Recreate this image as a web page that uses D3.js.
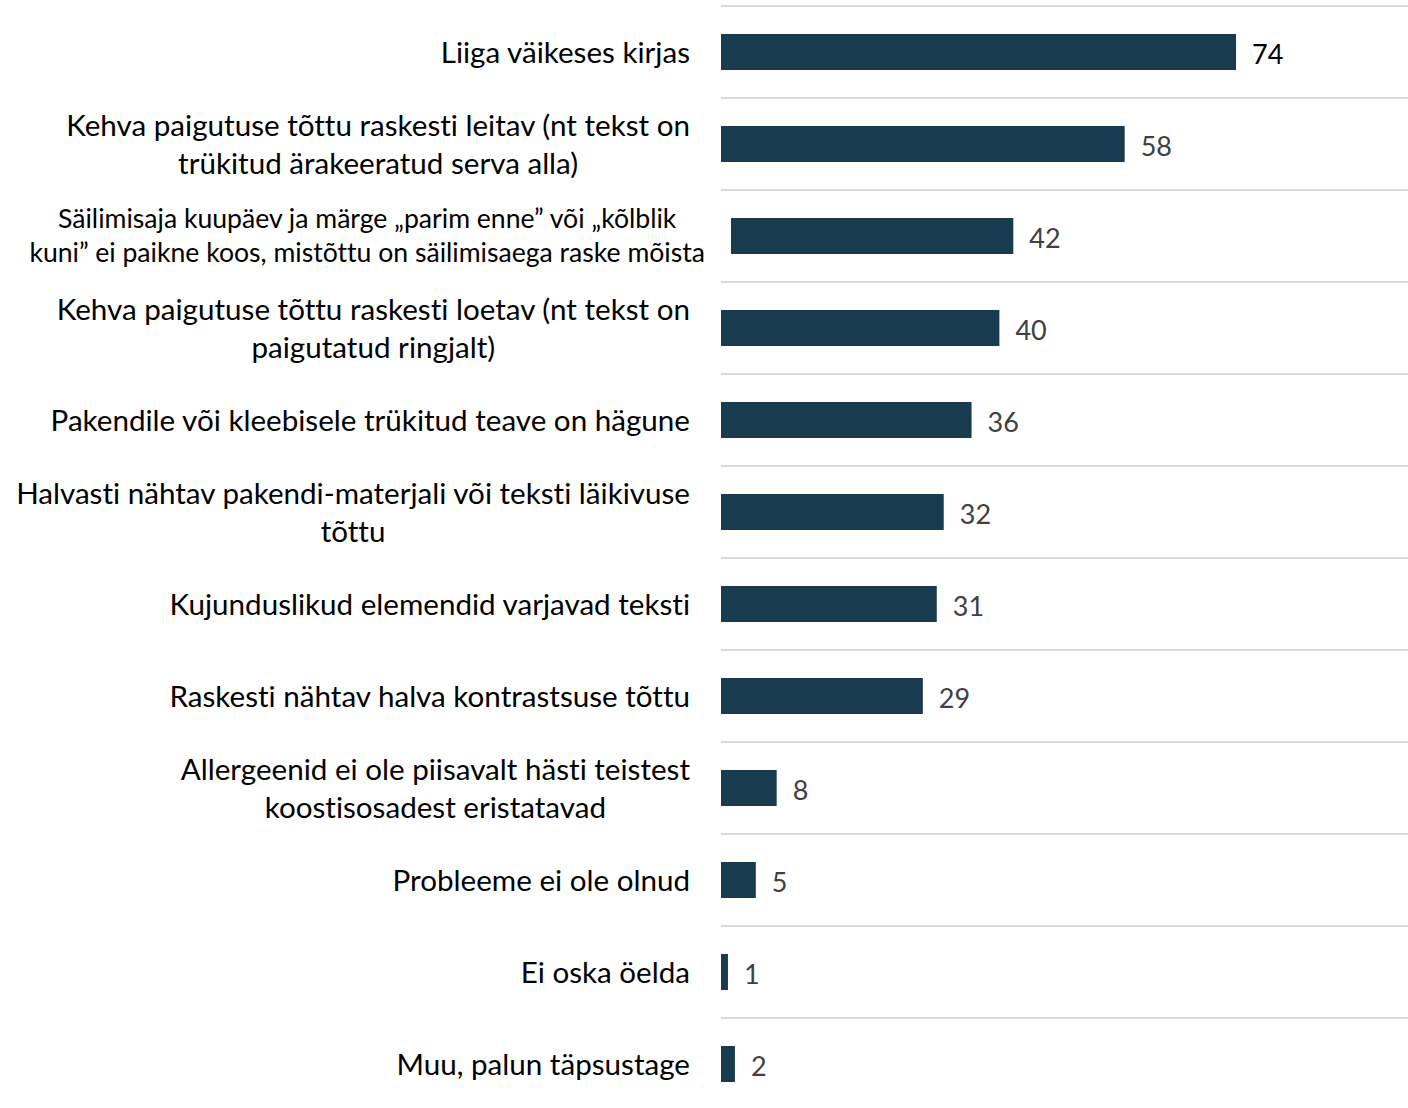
<!DOCTYPE html>
<html>
<head>
<meta charset="utf-8">
<script src="https://cdn.jsdelivr.net/npm/d3@7"></script>
<style>
  html, body { margin: 0; padding: 0; background: #fff; }
  svg { display: block; }
  text { font-family: Lato, "Open Sans", sans-serif; font-variant-ligatures: none; }
</style>
</head>
<body>
<svg id="chart" width="1408" height="1108"></svg>
<script>
// Category labels (each entry is the list of its wrapped lines)
const categories = [
  ["Liiga väikeses kirjas"],
  ["Kehva paigutuse tõttu raskesti leitav (nt tekst on", "trükitud ärakeeratud serva alla)"],
  ["Säilimisaja kuupäev ja märge „parim enne” või „kõlblik", "kuni” ei paikne koos, mistõttu on säilimisaega raske mõista"],
  ["Kehva paigutuse tõttu raskesti loetav (nt tekst on", "paigutatud ringjalt)"],
  ["Pakendile või kleebisele trükitud teave on hägune"],
  ["Halvasti nähtav pakendi-materjali või teksti läikivuse", "tõttu"],
  ["Kujunduslikud elemendid varjavad teksti"],
  ["Raskesti nähtav halva kontrastsuse tõttu"],
  ["Allergeenid ei ole piisavalt hästi teistest", "koostisosadest eristatavad"],
  ["Probleeme ei ole olnud"],
  ["Ei oska öelda"],
  ["Muu, palun täpsustage"]
];
const values = [74, 58, 42, 40, 36, 32, 31, 29, 8, 5, 1, 2];

const svg = d3.select("#chart");
const W = 1408;
const plotLeft = 721;

const ids = categories.map((_, i) => i);
const y = d3.scaleBand()
  .domain(ids)
  .range([6, 6 + 92 * ids.length])
  .paddingInner(1 - 36 / 92)
  .paddingOuter((1 - 36 / 92) / 2);

const x = d3.scaleLinear().domain([0, 100]).range([plotLeft, plotLeft + 696]);

// horizontal separators between categories
const step = y.step();
const gridYs = d3.range(ids.length + 1).map(i => y.range()[0] + i * step);
svg.append("g")
  .selectAll("line")
  .data(gridYs)
  .join("line")
  .attr("x1", plotLeft)
  .attr("x2", W)
  .attr("y1", d => d)
  .attr("y2", d => d)
  .attr("stroke", "#d9d9d9")
  .attr("stroke-width", 2);

// bars
svg.append("g")
  .selectAll("rect")
  .data(values)
  .join("rect")
  .attr("x", x(0))
  .attr("y", (d, i) => y(i))
  .attr("width", d => x(d) - x(0))
  .attr("height", y.bandwidth())
  .attr("fill", "#193b50");

// value labels
svg.append("g")
  .selectAll("text")
  .data(values)
  .join("text")
  .attr("x", d => x(d) + 16)
  .attr("y", (d, i) => y(i) + y.bandwidth() / 2 + 1)
  .attr("dominant-baseline", "central")
  .attr("font-size", 27)
  .attr("fill", (d, i) => i === 0 ? "#000" : "#404040")
  .text(d => d);

// category labels: lines centred on each other, block right-aligned
const labelRight = 690;
const smallLabel = 2; // the long shelf-life label uses a smaller font
const labelG = svg.append("g");
categories.forEach((lines, i) => {
  const small = i === smallLabel;
  const fs = small ? 26.6 : 29.6;
  const lh = small ? 34 : 38;
  const right = small ? 705 : labelRight;
  const cy = y(i) + y.bandwidth() / 2 - 1;
  const g = labelG.append("g");
  if (small) {
    // label box sits over the start of its bar
    g.append("rect")
      .attr("x", 20)
      .attr("y", cy - 36)
      .attr("width", 731 - 20)
      .attr("height", 72)
      .attr("fill", "#fff");
  }
  const t = g.append("text")
    .attr("font-size", fs)
    .attr("fill", "#000")
    .attr("text-anchor", "middle");
  lines.forEach((line, k) => {
    t.append("tspan")
      .attr("y", cy + (k - (lines.length - 1) / 2) * lh)
      .attr("dominant-baseline", "central")
      .text(line);
  });
  const maxW = d3.max(t.selectAll("tspan").nodes(), n => n.getComputedTextLength());
  t.selectAll("tspan").attr("x", right - maxW / 2);
});
</script>
</body>
</html>
